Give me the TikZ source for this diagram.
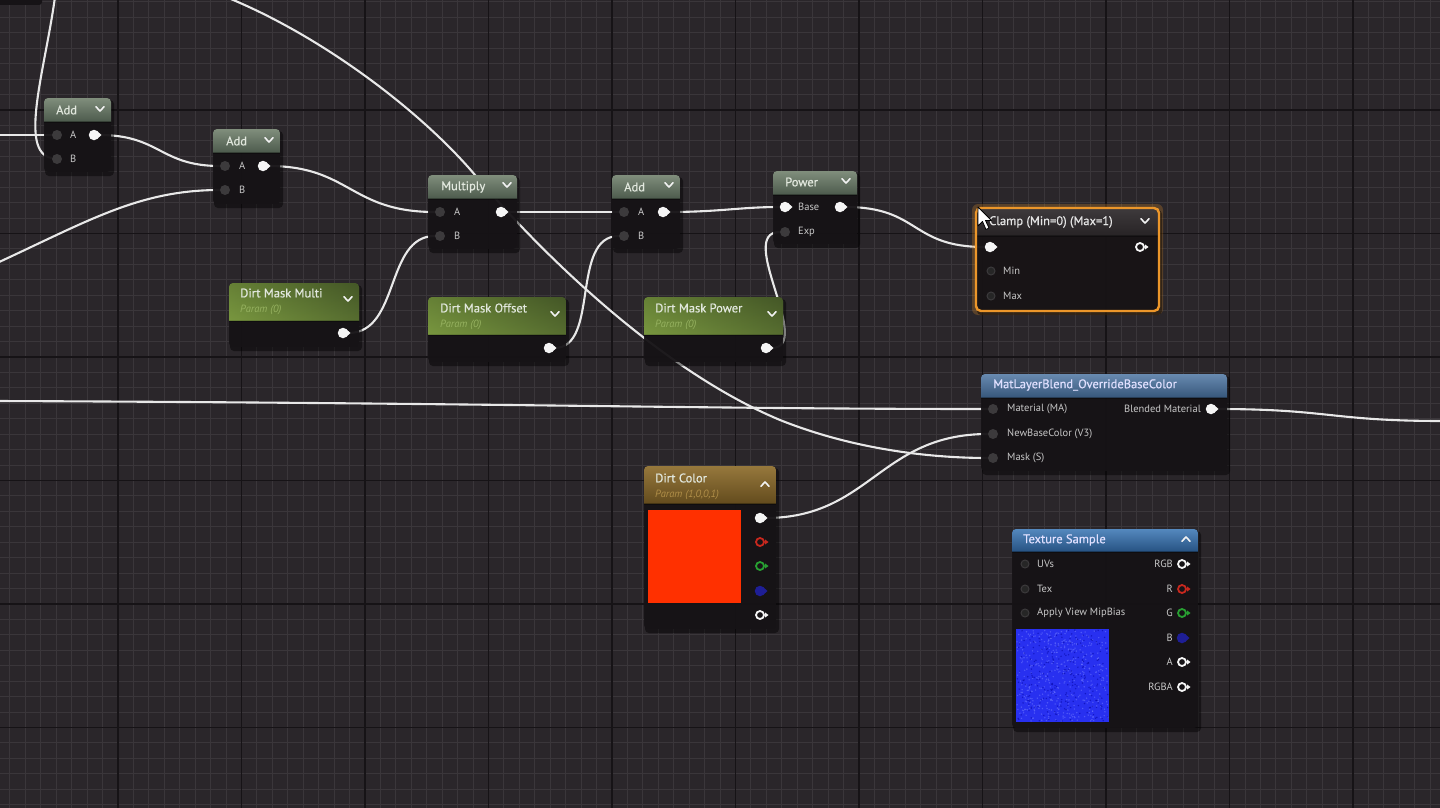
\documentclass[tikz,border=0pt]{standalone}
\usepackage{fontspec}
\setmainfont{PT Sans}
\newfontfamily\hdrfont[FakeBold=0.6]{PT Sans}
\usetikzlibrary{fit}
\definecolor{bgc}{RGB}{42,38,42}
\definecolor{minorc}{RGB}{58,54,58}
\definecolor{majorc}{RGB}{22,19,22}
\definecolor{bodyc}{RGB}{22,19,22}
\definecolor{wirec}{RGB}{232,232,232}
\definecolor{pinwhite}{RGB}{245,245,245}
\definecolor{pindark}{RGB}{60,58,60}
\definecolor{lblc}{RGB}{200,200,200}
\definecolor{ttlc}{RGB}{226,232,222}
\definecolor{subc}{RGB}{150,178,96}
\definecolor{orangec}{RGB}{236,150,42}
\definecolor{redpin}{RGB}{200,40,30}
\definecolor{greenpin}{RGB}{40,160,50}
\definecolor{bluepin}{RGB}{30,30,150}
\definecolor{swatchred}{RGB}{255,48,0}
\definecolor{texblue}{RGB}{40,48,240}
\definecolor{texlite}{RGB}{110,120,255}
\pgfdeclarelayer{gridl}
\pgfdeclarelayer{wirel}
\pgfsetlayers{gridl,wirel,main}
\newcommand\uebox[7]{%
 \fill[black,opacity=0.45,rounded corners=4pt] (#2+1,#3+2) rectangle (#4+3,#5+4);
 \begin{scope}
  \clip[rounded corners=4pt] (#2,#3) rectangle (#4,#5);
  \fill[bodyc,fill opacity=0.92] (#2,#3) rectangle (#4,#5);
  \shade[#7] (#2,#3) rectangle (#4,#6);
  \fill[black,opacity=0.3] (#2,#6) rectangle (#4,#6+1.5);
 \end{scope}
 \node[fit={(#2,#3) (#4,#5)},inner sep=0] (#1) {};
}
\newcommand\darkenright[3]{\shade[left color=black,right color=black,middle color=black,opacity=0] (#1,#2) rectangle (#1,#3);}
\newcommand\pinF[3]{\node[pinf] (#1) at (#2,#3) {};\fill[pinwhite] (#2+3.5,#3-3.5) -- (#2+7.5,#3) -- (#2+3.5,#3+3.5) -- cycle;}
\newcommand\pinH[4]{\node[pinh,draw=#4] (#1) at (#2,#3) {};\fill[#4] (#2+5,#3-2.6) -- (#2+8.5,#3) -- (#2+5,#3+2.6) -- cycle;}
\newcommand\pinB[4]{\node[pinf,fill=#4] (#1) at (#2,#3) {};\fill[#4] (#2+3.5,#3-3.5) -- (#2+7.5,#3) -- (#2+3.5,#3+3.5) -- cycle;}
\newcommand\pinD[3]{\node[pind] (#1) at (#2,#3) {};}
\newcommand\pinR[3]{\node[pinr] (#1) at (#2,#3) {};}
\newcommand\chevdn[2]{\draw[chevst] (#1-4,#2-2.2) -- (#1,#2+2) -- (#1+4,#2-2.2);}
\newcommand\chevup[2]{\draw[chevst] (#1-4,#2+2.2) -- (#1,#2-2) -- (#1+4,#2+2.2);}
\newcommand\paramtint[4]{\begin{scope}\clip[rounded corners=4pt] (#1,#2) rectangle (#3,#4+6);\shade[left color={rgb,255:red,122;green,152;blue,64},right color={rgb,255:red,60;green,76;blue,36},opacity=0.55] (#1,#2) rectangle (#3,#4);\end{scope}}
\begin{document}
\begin{tikzpicture}[x=1pt,y=-1pt,
  minorl/.style={draw=minorc,line width=0.9pt},
  majorl/.style={draw=majorc,line width=1.6pt},
  wire/.style={draw=wirec,line width=2.1pt},
  pinf/.style={circle,fill=pinwhite,inner sep=0,minimum size=10.5pt},
  pinh/.style={circle,line width=1.8pt,inner sep=0,minimum size=8pt},
  pind/.style={circle,fill=pindark,inner sep=0,minimum size=10pt},
  pinr/.style={circle,draw=pindark,fill=black!85,line width=1pt,inner sep=0,minimum size=8pt},
  ttl/.style={text=ttlc,font=\hdrfont\fontsize{12.5}{14}\selectfont,anchor=west,inner sep=0},
  sub/.style={text=subc,font=\itshape\fontsize{10.5}{12}\selectfont,anchor=west,inner sep=0},
  lbl/.style={text=lblc,font=\fontsize{10.5}{12}\selectfont,anchor=west,inner sep=0},
  lblr/.style={lbl,anchor=east},
  chevst/.style={draw=white!90!gray,line width=1.6pt,line cap=round,line join=round},
  hdrgray/.style={top color={rgb,255:red,128;green,142;blue,124},bottom color={rgb,255:red,78;green,92;blue,78}},
  hdrparam/.style={top color={rgb,255:red,78;green,100;blue,42},bottom color={rgb,255:red,118;green,148;blue,62}},
  hdrclamp/.style={top color={rgb,255:red,62;green,58;blue,60},bottom color={rgb,255:red,40;green,36;blue,38}},
  hdrblue/.style={top color={rgb,255:red,104;green,138;blue,176},bottom color={rgb,255:red,56;green,88;blue,124}},
  hdrtex/.style={top color={rgb,255:red,84;green,136;blue,190},bottom color={rgb,255:red,40;green,84;blue,132}},
  hdrgold/.style={top color={rgb,255:red,150;green,120;blue,60},bottom color={rgb,255:red,100;green,76;blue,30}}]
\useasboundingbox (0,0) rectangle (1440,808);
\begin{pgfonlayer}{gridl}
 \fill[bgc] (0,0) rectangle (1440,808);
 \foreach \i in {-8,...,86} {\draw[minorl] ({118+\i*15.4375},0) -- ({118+\i*15.4375},808);}
 \foreach \j in {-8,...,46} {\draw[minorl] (0,{110+\j*15.4375}) -- (1440,{110+\j*15.4375});}
 \foreach \i in {0,...,11} {\draw[majorl] ({118+\i*123.5},0) -- ({118+\i*123.5},808);}
 \foreach \j in {0,...,6} {\draw[majorl] (0,{110+\j*123.5}) -- (1440,{110+\j*123.5});}
\end{pgfonlayer}

% partial node at the top-left corner
\fill[bodyc,rounded corners=3pt] (-6,-10) rectangle (42,5);
\node[inner sep=0,fit={(0,0) (42,5)}] (topnode) {};

% free wire ends
\coordinate (lin1) at (-3,135);
\coordinate (lin2) at (-3,263);
\coordinate (lin3) at (-3,401);
\coordinate (top1) at (55,-3);
\coordinate (top2) at (226,-3);
\coordinate (rout) at (1443,421);

% Add 1
\uebox{add1}{44}{98}{111}{172}{121}{hdrgray}
\node[ttl] (add1t) at (56,110) {Add};
\chevdn{100}{109}
\pinD{a1A}{57}{135}\pinD{a1B}{57}{159}
\node[lbl] (add1la) at (70,135) {A};
\node[lbl] (add1lb) at (70,159) {B};
\pinF{a1o}{94}{135}

% Add 2
\uebox{add2}{213}{129}{280}{204}{152}{hdrgray}
\node[ttl] (add2t) at (226,141) {Add};
\chevdn{269}{140}
\pinD{a2A}{225}{166}\pinD{a2B}{225}{190}
\node[lbl] (add2la) at (239,166) {A};
\node[lbl] (add2lb) at (239,190) {B};
\pinF{a2o}{263}{166}

% Multiply
\uebox{mult}{428}{175}{517}{249}{198}{hdrgray}
\node[ttl] (multt) at (441,187) {Multiply};
\chevdn{507}{185}
\pinD{mA}{440}{212}\pinD{mB}{440}{236}
\node[lbl] (multla) at (454,212) {A};
\node[lbl] (multlb) at (454,236) {B};
\pinF{mo}{501}{212}

% Add 3
\uebox{add3}{612}{175}{680}{249}{198}{hdrgray}
\node[ttl] (add3t) at (624,187) {Add};
\chevdn{669}{185}
\pinD{a3A}{624}{212}\pinD{a3B}{624}{236}
\node[lbl] (add3la) at (638,212) {A};
\node[lbl] (add3lb) at (638,236) {B};
\pinF{a3o}{663}{212}

% Power
\uebox{power}{773}{171}{857}{244}{194}{hdrgray}
\node[ttl] (powert) at (785,182) {Power};
\chevdn{846}{181}
\pinF{pB}{785}{207}\pinD{pE}{785}{232}
\node[lbl] (powerlb) at (798,207) {Base};
\node[lbl] (powerle) at (798,232) {Exp};
\pinF{po}{840}{207}

% Clamp
\fill[orangec,opacity=0.25,rounded corners=6pt] (972,204) rectangle (1163,315);
\uebox{clamp}{976}{208}{1159}{311}{235}{hdrclamp}
\draw[orangec,line width=2.4pt,rounded corners=5pt] (976,208) rectangle (1159,311);
\node[ttl,text=white!80!gray] (clampt) at (989,222) {Clamp (Min=0) (Max=1)};
\chevdn{1145}{221}
\pinF{cI}{990}{247}
\pinH{cO}{1140}{247}{pinwhite}
\pinR{cMin}{991}{271}\pinR{cMax}{991}{296}
\node[lbl] (clampmin) at (1003,271) {Min};
\node[lbl] (clampmax) at (1003,296) {Max};

% Dirt Mask Multi
\uebox{dmm}{229}{283}{359}{347}{320}{hdrparam}
\paramtint{229}{283}{359}{320}
\node[ttl] (dmmt) at (240,293) {Dirt Mask Multi};
\node[sub] (dmms) at (240,310) {Param (0)};
\chevdn{348}{299}
\pinF{dmmo}{343}{333}

% Dirt Mask Offset
\uebox{dmo}{428}{297}{566}{362}{334}{hdrparam}
\paramtint{428}{297}{566}{334}
\node[ttl] (dmot) at (440,308) {Dirt Mask Offset};
\node[sub] (dmos) at (440,325) {Param (0)};
\chevdn{555}{314}
\pinF{dmoo}{549}{348}

% Dirt Mask Power
\uebox{dmp}{644}{297}{783}{362}{334}{hdrparam}
\paramtint{644}{297}{783}{334}
\node[ttl] (dmpt) at (655,308) {Dirt Mask Power};
\node[sub] (dmps) at (655,325) {Param (0)};
\chevdn{772}{314}
\pinF{dmpo}{766}{348}

% MatLayerBlend_OverrideBaseColor
\uebox{blend}{981}{374}{1227}{471}{397}{hdrblue}
\node[ttl,text=white!88!blue] (blendt) at (993,385) {MatLayerBlend\_OverrideBaseColor};
\pinD{bMA}{993}{409}\pinD{bNB}{993}{434}\pinD{bMS}{993}{458}
\node[lbl] (blendl1) at (1007,409) {Material (MA)};
\node[lbl] (blendl2) at (1007,434) {NewBaseColor (V3)};
\node[lbl] (blendl3) at (1007,458) {Mask (S)};
\node[lblr] (blendlo) at (1201,409) {Blended Material};
\pinF{bo}{1211}{409}

% Dirt Color
\uebox{dcol}{644}{466}{776}{629}{503}{hdrgold}
\node[ttl] (dcolt) at (655,478) {Dirt Color};
\node[sub,text={rgb,255:red,176;green,142;blue,72}] (dcols) at (655,495) {Param (1,0,0,1)};
\chevup{765}{484}
\fill[swatchred] (648,510) rectangle (741,603);
\pinF{dco}{760}{518}
\pinH{dcr}{760}{542}{redpin}
\pinH{dcg}{760}{566}{greenpin}
\pinB{dcb}{760}{591}{bluepin}
\pinH{dca}{760}{615}{pinwhite}

% Texture Sample
\uebox{tex}{1012}{529}{1198}{728}{551}{hdrtex}
\node[ttl,text=white!88!blue] (text) at (1023,540) {Texture Sample};
\chevup{1186}{539}
\pinR{tUV}{1025}{564}\pinR{tTex}{1025}{589}\pinR{tMip}{1025}{613}
\node[lbl] (texl1) at (1037,564) {UVs};
\node[lbl] (texl2) at (1037,589) {Tex};
\node[lbl] (texl3) at (1037,613) {Apply View MipBias};
\node[lblr] (texo1) at (1173,564) {RGB};
\node[lblr] (texo2) at (1173,589) {R};
\node[lblr] (texo3) at (1173,613) {G};
\node[lblr] (texo4) at (1173,638) {B};
\node[lblr] (texo5) at (1173,662) {A};
\node[lblr] (texo6) at (1173,687) {RGBA};
\pinH{tRGB}{1182}{564}{pinwhite}
\pinH{tR}{1182}{589}{redpin}
\pinH{tG}{1182}{613}{greenpin}
\pinB{tB}{1182}{638}{bluepin}
\pinH{tA}{1182}{662}{pinwhite}
\pinH{tRGBA}{1182}{687}{pinwhite}
\fill[texblue] (1016,629) rectangle (1109,722);
\pgfmathsetseed{7}
\foreach \k in {1,...,450} {\pgfmathsetmacro\rx{1017+91*rnd}\pgfmathsetmacro\ry{630+91*rnd}\fill[texlite,opacity=0.55] (\rx,\ry) circle (0.8);}
\foreach \k in {1,...,250} {\pgfmathsetmacro\rx{1017+91*rnd}\pgfmathsetmacro\ry{630+91*rnd}\fill[blue!60!black,opacity=0.5] (\rx,\ry) circle (0.8);}

% connectors
\begin{pgfonlayer}{wirel}
\draw[wire] (lin1) -- (a1A);
\draw[wire] (top1) .. controls (45,70) and (18,152) .. (a1B);
\draw[wire] (a1o) .. controls (160,135) and (160,166) .. (a2A);
\draw[wire] (lin2) .. controls (90,220) and (140,190) .. (a2B);
\draw[wire] (a2o) .. controls (350,166) and (350,212) .. (mA);
\draw[wire] (mo) -- (a3A);
\draw[wire] (dmmo) .. controls (400,333) and (385,236) .. (mB);
\draw[wire] (dmoo) .. controls (600,348) and (570,236) .. (a3B);
\draw[wire] (a3o) .. controls (720,212) and (740,207) .. (pB);
\draw[wire] (dmpo) .. controls (815,348) and (735,232) .. (pE);
\draw[wire] (po) .. controls (920,207) and (910,247) .. (cI);
\draw[wire] (lin3) .. controls (500,403) and (700,409) .. (bMA);
\draw[wire] (bo) .. controls (1330,409) and (1330,421) .. (rout);
\draw[wire] (dco) .. controls (870,518) and (880,434) .. (bNB);
\draw[wire] (top2) .. controls (320,35) and (420,110) .. (475,175) .. controls (540,252) and (660,370) .. (780,420) .. controls (860,452) and (940,458) .. (bMS);
\end{pgfonlayer}

% mouse cursor
\filldraw[fill=white,draw=black,line width=0.8pt,line join=round] (978,207) -- (978,226) -- (982.5,221.5) -- (986,229.5) -- (989,228) -- (985.5,220.5) -- (991.5,220.5) -- cycle;
\end{tikzpicture}
\end{document}
